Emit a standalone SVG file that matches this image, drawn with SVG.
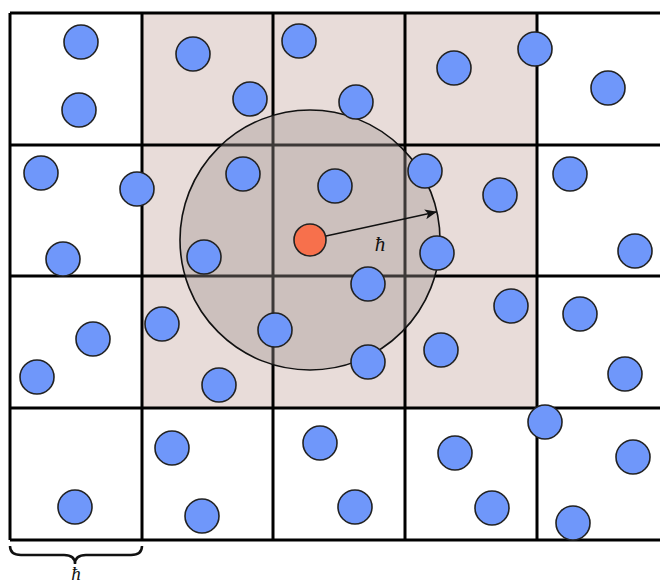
<svg xmlns="http://www.w3.org/2000/svg" width="660" height="584" viewBox="0 0 660 584">
<style>
.grid{stroke:#000;stroke-width:3;fill:none}
.p{fill:#6f97fa;stroke:#222;stroke-width:1.6}
.t{font-family:"Liberation Serif","DejaVu Serif",serif;font-style:italic;fill:#111}
</style>
<defs>
<marker id="ah" viewBox="0 0 12 10" refX="11" refY="5" markerWidth="12" markerHeight="10" markerUnits="userSpaceOnUse" orient="auto">
<path d="M0,0 L12,5 L0,10 L3,5 Z" fill="#111"/>
</marker>
</defs>
<rect width="660" height="584" fill="#fff"/>
<g id="cells">
<rect x="142" y="13" width="395" height="395" fill="#e8dcd9"/>
</g>
<g id="grid" class="grid">
<path d="M10,13 H660 M10,145 H660 M10,276 H660 M10,408 H660 M10,540 H660"/>
<path d="M10,13 V540 M142,13 V540 M273,13 V540 M405,13 V540 M537,13 V540"/>
</g>
<g id="neighbourhood">
<circle cx="310" cy="240" r="130" fill="#9f9490" fill-opacity="0.38" stroke="#111" stroke-width="1.6"/>
</g>
<g id="particles">
<g id="p1"><circle class="p" cx="81" cy="42" r="17"/></g>
<g id="p2"><circle class="p" cx="79" cy="110" r="17"/></g>
<g id="p3"><circle class="p" cx="193" cy="54" r="17"/></g>
<g id="p4"><circle class="p" cx="250" cy="99" r="17"/></g>
<g id="p5"><circle class="p" cx="299" cy="41" r="17"/></g>
<g id="p6"><circle class="p" cx="356" cy="102" r="17"/></g>
<g id="p7"><circle class="p" cx="454" cy="68" r="17"/></g>
<g id="p8"><circle class="p" cx="535" cy="49" r="17"/></g>
<g id="p9"><circle class="p" cx="608" cy="88" r="17"/></g>
<g id="p10"><circle class="p" cx="41" cy="173" r="17"/></g>
<g id="p11"><circle class="p" cx="137" cy="189" r="17"/></g>
<g id="p12"><circle class="p" cx="63" cy="259" r="17"/></g>
<g id="p13"><circle class="p" cx="243" cy="174" r="17"/></g>
<g id="p14"><circle class="p" cx="204" cy="257" r="17"/></g>
<g id="p15"><circle class="p" cx="335" cy="186" r="17"/></g>
<g id="p16"><circle class="p" cx="368" cy="284" r="17"/></g>
<g id="p17"><circle class="p" cx="425" cy="171" r="17"/></g>
<g id="p18"><circle class="p" cx="500" cy="195" r="17"/></g>
<g id="p19"><circle class="p" cx="437" cy="253" r="17"/></g>
<g id="p20"><circle class="p" cx="570" cy="174" r="17"/></g>
<g id="p21"><circle class="p" cx="635" cy="251" r="17"/></g>
<g id="p22"><circle class="p" cx="93" cy="339" r="17"/></g>
<g id="p23"><circle class="p" cx="37" cy="377" r="17"/></g>
<g id="p24"><circle class="p" cx="162" cy="324" r="17"/></g>
<g id="p25"><circle class="p" cx="219" cy="385" r="17"/></g>
<g id="p26"><circle class="p" cx="275" cy="330" r="17"/></g>
<g id="p27"><circle class="p" cx="368" cy="362" r="17"/></g>
<g id="p28"><circle class="p" cx="511" cy="306" r="17"/></g>
<g id="p29"><circle class="p" cx="441" cy="350" r="17"/></g>
<g id="p30"><circle class="p" cx="580" cy="314" r="17"/></g>
<g id="p31"><circle class="p" cx="625" cy="374" r="17"/></g>
<g id="p32"><circle class="p" cx="75" cy="507" r="17"/></g>
<g id="p33"><circle class="p" cx="172" cy="448" r="17"/></g>
<g id="p34"><circle class="p" cx="202" cy="516" r="17"/></g>
<g id="p35"><circle class="p" cx="320" cy="443" r="17"/></g>
<g id="p36"><circle class="p" cx="355" cy="507" r="17"/></g>
<g id="p37"><circle class="p" cx="455" cy="453" r="17"/></g>
<g id="p38"><circle class="p" cx="492" cy="508" r="17"/></g>
<g id="p39"><circle class="p" cx="545" cy="422" r="17"/></g>
<g id="p40"><circle class="p" cx="633" cy="457" r="17"/></g>
<g id="p41"><circle class="p" cx="573" cy="523" r="17"/></g>
</g>
<g id="centre"><circle cx="310" cy="240" r="16" fill="#f7704c" stroke="#222" stroke-width="1.6"/></g>
<g id="connectors">
<line x1="326" y1="236" x2="436" y2="212" stroke="#111" stroke-width="1.4" marker-end="url(#ah)"/>
<path d="M10,546 Q10,555 21,555 L64,555 Q75,555 75,564 Q75,555 86,555 L131,555 Q142,555 142,546" fill="none" stroke="#111" stroke-width="2.5"/>
</g>
<text class="t" x="380" y="251" font-size="21" text-anchor="middle">ħ</text>
<text class="t" x="76" y="580" font-size="19" text-anchor="middle">ħ</text>
</svg>
